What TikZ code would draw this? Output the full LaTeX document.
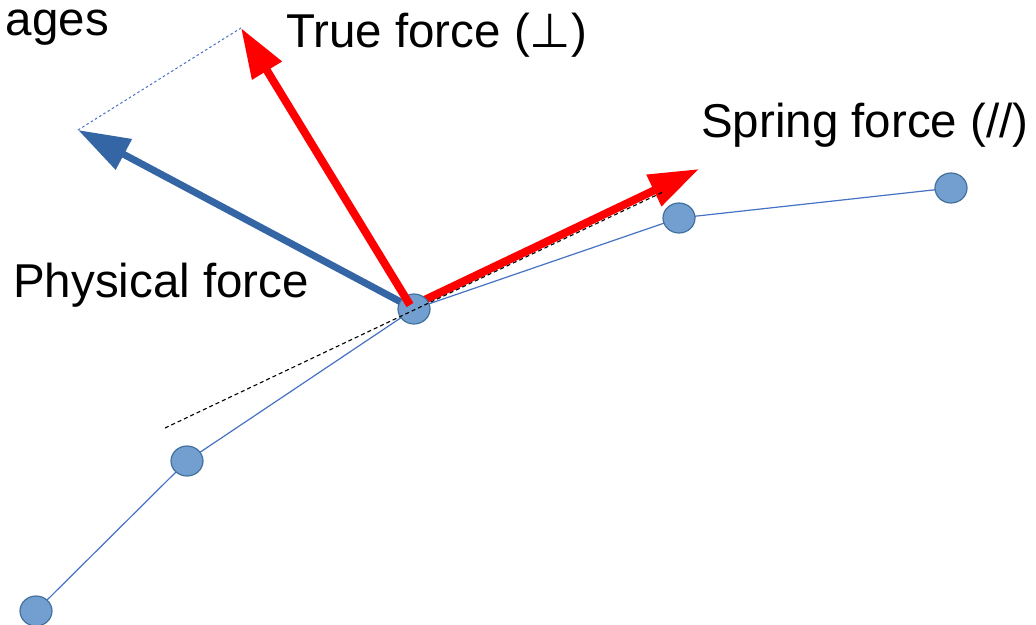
\documentclass[tikz,border=0pt]{standalone}
\usepackage{fontspec}
\setmainfont{Liberation Sans}
\newfontfamily\symfont{DejaVu Sans}
\usetikzlibrary{arrows.meta,shapes.geometric}
\definecolor{nodefill}{RGB}{114,159,207}
\definecolor{nodeborder}{RGB}{65,113,156}
\definecolor{linkblue}{RGB}{68,114,196}
\definecolor{forceblue}{RGB}{52,101,164}
\definecolor{forcered}{RGB}{255,0,0}
\tikzset{
  bead/.style={ellipse, draw=nodeborder, fill=nodefill, line width=1.2pt, minimum width=32pt, minimum height=30pt, inner sep=0pt},
  link/.style={draw=linkblue, line width=1.2pt},
  lbl/.style={inner sep=0pt, font=\fontsize{47.5}{50}\selectfont, anchor=base west},
  physarrow/.style={draw=forceblue, line width=7pt, -{Triangle[length=52pt,width=33pt]}},
  redarrow/.style={draw=forcered, line width=8pt, -{Triangle[length=50pt,width=33pt]}},
  tangent/.style={draw=black, line width=1.1pt, dash pattern=on 4pt off 3pt},
  helper/.style={draw=linkblue, line width=1pt, dash pattern=on 2.5pt off 2.5pt}
}
\begin{document}
\begin{tikzpicture}[x=1pt,y=-1pt]
\useasboundingbox (0,0) rectangle (1036,624);
% tips and helper points
\coordinate (tipB) at (78,130);
\coordinate (tipT) at (241,28);
\coordinate (tipS) at (699,169);
\coordinate (tanA) at (165,428);
\coordinate (tanB) at (663,192);
\coordinate (startB) at (414,309);
\coordinate (startT) at (410,305);
\coordinate (startS) at (414,305);
% beads positions
\path (36,611) coordinate (p1) (187,461) coordinate (p2) (414,309) coordinate (p3) (679,218) coordinate (p4) (951,188) coordinate (p5);
% links
\draw[link] (p1) -- (p2) -- (p3) -- (p4) -- (p5);
% helper dotted line
\draw[helper] (tipB) -- (tipT);
% physical force arrow (under bead)
\draw[physarrow] (startB) -- (tipB);
% spring force arrow
\draw[redarrow] (startS) -- (tipS);
% beads
\node[bead] (n1) at (p1) {};
\node[bead] (n2) at (p2) {};
\node[bead] (n3) at (p3) {};
\node[bead] (n4) at (p4) {};
\node[bead] (n5) at (p5) {};
% true force arrow (over bead)
\draw[redarrow] (startT) -- (tipT);
% tangent dashed line
\draw[tangent] (tanA) -- (tanB);
% labels
\node[lbl, anchor=base east] (lages) at (109,35) {ages};
\node[lbl] (ltrue) at (286,47) {True force ({\symfont ⊥})};
\node[lbl] (lspring) at (701,137) {Spring force (//)};
\node[lbl] (lphys) at (13,297) {Physical force};
\end{tikzpicture}
\end{document}
